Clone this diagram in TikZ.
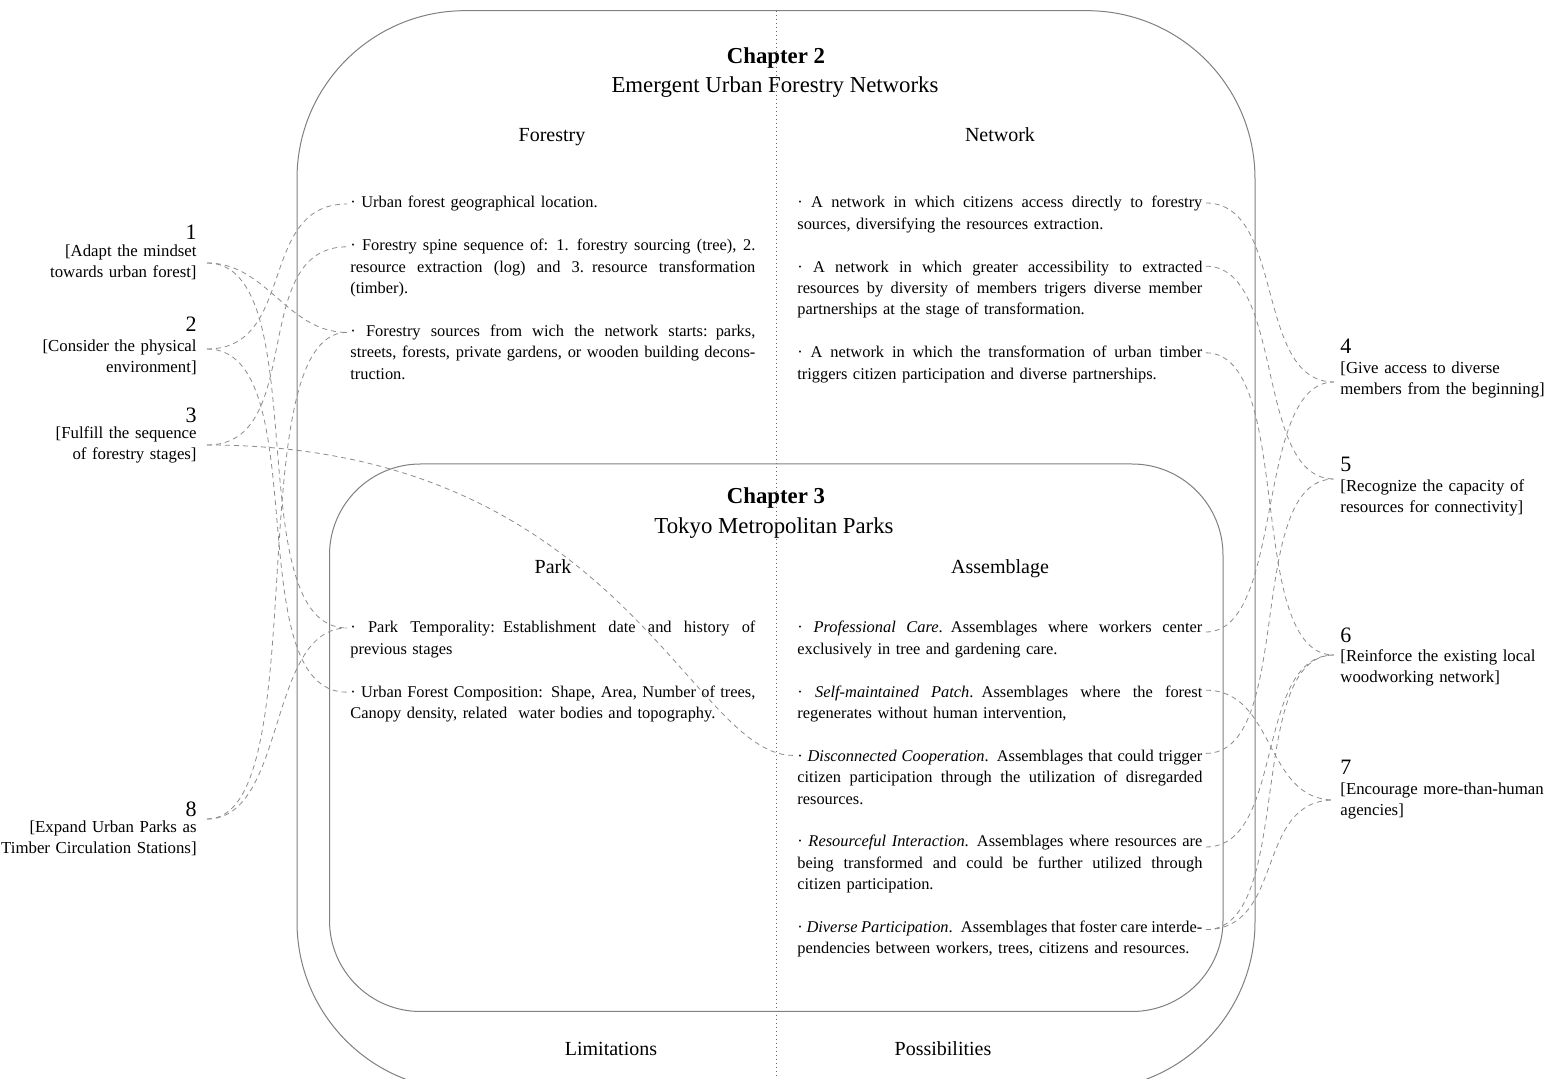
\documentclass[tikz,border=0pt]{standalone}
\usepackage{fontspec}
\setmainfont{Liberation Serif}
\usetikzlibrary{calc}
% one justified line, one natural line, one right-aligned line
\newcommand\jline[1]{\hbox to\linewidth{\spaceskip=.25em plus .6em minus .1em\relax#1}\par}
\newcommand\lline[1]{\hbox{#1}\par}
\newcommand\rline[1]{\hbox to\linewidth{\hfill#1}\par}

\begin{document}
\begin{tikzpicture}[x=0.5pt,y=-0.5pt,
  frame/.style={draw=black!50, line width=0.5pt},
  divider/.style={draw=black!60, line width=0.4pt, dash pattern=on 0.6pt off 1.4pt},
  link/.style={draw=black!45, line width=0.4pt, dash pattern=on 2.5pt off 2pt},
  chap/.style={inner sep=0pt, anchor=base, font=\fontsize{11.4}{13}\selectfont},
  head/.style={inner sep=0pt, anchor=base, font=\fontsize{10}{12}\selectfont},
  para/.style={inner sep=0pt, text width=202.5pt, anchor=base west, font=\fontsize{8.2}{10.7}\selectfont},
  num/.style={inner sep=0pt, font=\fontsize{11}{13}\selectfont},
  lab/.style={inner sep=0pt, text width=150pt, font=\fontsize{8.4}{10.5}\selectfont}]

\useasboundingbox (0,0) rectangle (1544,1079);
\fill[white] (0,0) rectangle (1544,1079);
\clip (0,0) rectangle (1544,1079);

% centre divider and the two chapter frames
\draw[divider] (776,10.7) -- (776,1079);
\draw[frame, rounded corners=84pt] (297,10.7) rectangle (1255,1090);
\draw[frame, rounded corners=45.5pt] (329.5,464) rectangle (1223,1011.5);

% chapter 2
\node[chap] (ch2) at (776,64) {\textbf{Chapter 2}};
\node[chap] (ch2t) at (775,93) {Emergent Urban Forestry Networks};
\node[head] (hfor) at (552,142) {Forestry};
\node[head] (hnet) at (1000,142) {Network};

\node[para] (f1) at (350,208) {\lline{· Urban forest geographical location.}};
\node[para] (f2) at (350,250.8) {\jline{· Forestry spine sequence of: 1. forestry sourcing (tree), 2.}\jline{resource extraction (log) and 3. resource transformation}\lline{(timber).}};
\node[para] (f3) at (350,336.4) {\jline{· Forestry sources from wich the network starts: parks,}\jline{streets, forests, private gardens, or wooden building decons-}\lline{truction.}};

\node[para] (n1) at (797,208) {\jline{· A network in which citizens access directly to forestry}\lline{sources, diversifying the resources extraction.}};
\node[para] (n2) at (797,272.2) {\jline{· A network in which greater accessibility to extracted}\jline{resources by diversity of members trigers diverse member}\lline{partnerships at the stage of transformation.}};
\node[para] (n3) at (797,357.8) {\jline{· A network in which the transformation of urban timber}\lline{triggers citizen participation and diverse partnerships.}};

% chapter 3
\node[chap] (ch3) at (776,504) {\textbf{Chapter 3}};
\node[chap] (ch3t) at (774,534) {Tokyo Metropolitan Parks};
\node[head] (hpark) at (553,574) {Park};
\node[head] (hass) at (1000,574) {Assemblage};

\node[para] (p1) at (350,633) {\jline{· Park Temporality: Establishment date and history of}\lline{previous stages}};
\node[para] (p2) at (350,697.2) {\jline{· Urban Forest Composition: Shape, Area, Number of trees,}\lline{Canopy density, related\ \ water bodies and topography.}};

\node[para] (a1) at (797,633) {\jline{· \textit{Professional Care}. Assemblages where workers center}\lline{exclusively in tree and gardening care.}};
\node[para] (a2) at (797,697.2) {\jline{· \textit{Self-maintained Patch}. Assemblages where the forest}\lline{regenerates without human intervention,}};
\node[para] (a3) at (797,761.4) {\jline{· \textit{Disconnected Cooperation}. Assemblages that could trigger}\jline{citizen participation through the utilization of disregarded}\lline{resources.}};
\node[para] (a4) at (797,847) {\jline{· \textit{Resourceful Interaction}. Assemblages where resources are}\jline{being transformed and could be further utilized through}\lline{citizen participation.}};
\node[para] (a5) at (797,932.6) {\jline{· \textit{Diverse Participation}. Assemblages that foster care interde-}\lline{pendencies between workers, trees, citizens and resources.}};

\node[head] (hlim) at (611,1056) {Limitations};
\node[head] (hpos) at (943,1056) {Possibilities};

% numbered guidelines, left
\node[num, anchor=base east] (k1) at (197,240) {1};
\node[lab, anchor=base east] (l1) at (197,257) {\rline{[Adapt the mindset}\rline{towards urban forest]}};
\node[num, anchor=base east] (k2) at (197,332) {2};
\node[lab, anchor=base east] (l2) at (197,352) {\rline{[Consider the physical}\rline{environment]}};
\node[num, anchor=base east] (k3) at (197,423) {3};
\node[lab, anchor=base east] (l3) at (197,439) {\rline{[Fulfill the sequence}\rline{of forestry stages]}};
\node[num, anchor=base east] (k8) at (197,817) {8};
\node[lab, anchor=base east] (l8) at (197,833) {\rline{[Expand Urban Parks as}\rline{Timber Circulation Stations]}};

% numbered guidelines, right
\node[num, anchor=base west] (k4) at (1340,354) {4};
\node[lab, anchor=base west] (r4) at (1340,374) {\lline{[Give access to diverse}\lline{members from the beginning]}};
\node[num, anchor=base west] (k5) at (1340,472) {5};
\node[lab, anchor=base west] (r5) at (1340,492) {\lline{[Recognize the capacity of}\lline{resources for connectivity]}};
\node[num, anchor=base west] (k6) at (1340,643) {6};
\node[lab, anchor=base west] (r6) at (1340,662) {\lline{[Reinforce the existing local}\lline{woodworking network]}};
\node[num, anchor=base west] (k7) at (1340,775) {7};
\node[lab, anchor=base west] (r7) at (1340,795) {\lline{[Encourage more-than-human}\lline{agencies]}};

% connector ends
\coordinate (L1) at ($(l1.base east)+(10,6)$);
\coordinate (L2) at ($(l2.base east)+(10,-3)$);
\coordinate (L3) at ($(l3.base east)+(10,6)$);
\coordinate (L8) at ($(l8.base east)+(10,-14)$);
\coordinate (R4) at ($(r4.base west)+(-6,8)$);
\coordinate (R5) at ($(r5.base west)+(-6,-13)$);
\coordinate (R6) at ($(r6.base west)+(-6,-7)$);
\coordinate (R7) at ($(r7.base west)+(-6,5)$);
\coordinate (F1) at ($(f1.base west)+(-3,-4)$);
\coordinate (F2) at ($(f2.base west)+(-3,-4)$);
\coordinate (F3) at ($(f3.base west)+(-3,-4)$);
\coordinate (P1) at ($(p1.base west)+(-3,-5)$);
\coordinate (P2) at ($(p2.base west)+(-3,-5)$);
\coordinate (N1) at ($(n1.base east)+(3,-5)$);
\coordinate (N2) at ($(n2.base east)+(3,-6)$);
\coordinate (N3) at ($(n3.base east)+(3,-5)$);
\coordinate (A1) at ($(a1.base east)+(3,-1)$);
\coordinate (A2) at ($(a2.base east)+(3,-7)$);
\coordinate (A3w) at ($(a3.base west)+(-4,-6)$);
\coordinate (A3) at ($(a3.base east)+(3,-8)$);
\coordinate (A4) at ($(a4.base east)+(3,0)$);
\coordinate (A5) at ($(a5.base east)+(3,-3)$);

% left connectors
\draw[link] (L1) .. controls +(60,0) and +(-60,0) .. (F3);
\draw[link] (L1) .. controls +(110,0) and +(-110,0) .. (P1);
\draw[link] (L2) .. controls +(90,0) and +(-90,0) .. (F1);
\draw[link] (L2) .. controls +(110,0) and +(-110,0) .. (P2);
\draw[link] (L3) .. controls +(100,0) and +(-100,0) .. (F2);
\draw[link] (L3) .. controls +(413,0) and +(-103,0) .. (A3w);
\draw[link] (L8) .. controls +(110,0) and +(-110,0) .. (F3);
\draw[link] (L8) .. controls +(80,0) and +(-80,0) .. (P1);

% right connectors
\draw[link] (N1) .. controls +(80,0) and +(-80,0) .. (R4);
\draw[link] (N2) .. controls +(80,0) and +(-80,0) .. (R5);
\draw[link] (N3) .. controls +(90,0) and +(-90,0) .. (R6);
\draw[link] (A1) .. controls +(80,0) and +(-80,0) .. (R4);
\draw[link] (A3) .. controls +(90,0) and +(-90,0) .. (R5);
\draw[link] (A2) .. controls +(70,0) and +(-70,0) .. (R7);
\draw[link] (A4) .. controls +(80,0) and +(-80,0) .. (R6);
\draw[link] (A5) .. controls +(90,0) and +(-90,0) .. (R6);
\draw[link] (A5) .. controls +(80,0) and +(-80,0) .. (R7);
\end{tikzpicture}
\end{document}
